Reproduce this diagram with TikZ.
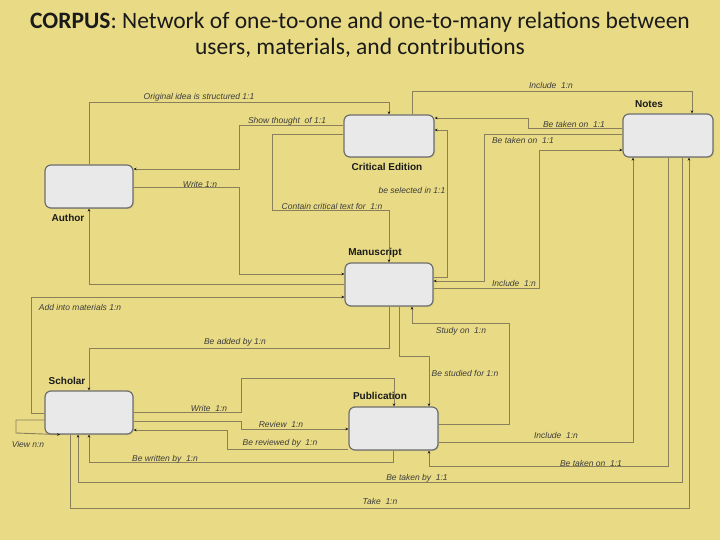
\documentclass[tikz,border=0pt]{standalone}
\usepackage{fontspec}
\setmainfont{Liberation Sans}
\newfontfamily\titlefont{Carlito}
\usepackage{tikz}
\usetikzlibrary{arrows.meta,positioning,shadows}
\definecolor{sand}{HTML}{E9DB85}
\definecolor{boxfill}{HTML}{E9E9E9}
\definecolor{boxline}{HTML}{6E6E6E}
\definecolor{wire}{HTML}{8A7F5C}
\definecolor{ink}{HTML}{1A1A1A}
\tikzset{
  entity/.style={draw=boxline,fill=boxfill,line width=1.2pt,rounded corners=6pt,
                 minimum width=88pt,minimum height=43pt,inner sep=0pt,
                 drop shadow={shadow xshift=1pt,shadow yshift=-1pt,opacity=0.25}},
  etitle/.style={font=\fontsize{10}{12}\selectfont\bfseries,text=ink,inner sep=0pt},
  rel/.style={draw=wire,line width=0.9pt,
              -{Stealth[length=3pt,width=2.6pt,color=ink]}},
  rlabel/.style={font=\fontsize{8.5}{10}\selectfont\itshape,text=ink!85,inner sep=0pt}
}

\begin{document}
\begin{tikzpicture}[x=1pt,y=-1pt]
  \fill[sand] (0,0) rectangle (720,540);
  \useasboundingbox (0,0) rectangle (720,540);

  \node[align=center,text=ink,font=\titlefont\fontsize{23.5}{26}\selectfont] (title) at (360,35)
    {\textbf{CORPUS}: Network of one-to-one and one-to-many relations between\\
     users, materials, and contributions};

  % entities
  \node[entity] (author) at (89,186.5) {};
  \node[entity,minimum width=90pt,minimum height=42pt] (ce) at (389,136) {};
  \node[entity,minimum width=90pt] (notes) at (668,135.5) {};
  \node[entity] (ms) at (389,284.5) {};
  \node[entity] (scholar) at (89,412.5) {};
  \node[entity,minimum width=89pt] (pub) at (393.5,428.5) {};

  \node[etitle] (authorT) at (68,218) {Author};
  \node[etitle] (ceT) at (387,167) {Critical Edition};
  \node[etitle] (notesT) at (649,104) {Notes};
  \node[etitle] (msT) at (375,253) {Manuscript};
  \node[etitle] (scholarT) at (67,381) {Scholar};
  \node[etitle] (pubT) at (380,396) {Publication};

  % author / critical edition / manuscript
  \draw[rel] (author.north) |- (389,102) -- (ce.north);
  \draw[rel] (ce.west |- 0,125) -| (239,169) -- (author.east |- 0,169);
  \draw[rel] (author.east |- 0,187) -| (239,274) -- (ms.west |- 0,274);
  \draw[rel] (ce.west |- 0,134) -| (272,210) -| (ms.north);
  \draw[rel] (ms.west |- 0,284) -| (author.south);
  \draw[rel] (ms.east |- 0,277) -| (447,130) -- (ce.east |- 0,130);

  % notes
  \draw[rel] (notes.west |- 0,128) -| (528,118) -- (ce.east |- 0,118);
  \draw[rel] (notes.west |- 0,134) -| (484,281) -- (ms.east |- 0,281);
  \draw[rel] (ms.east |- 0,288) -| (539,150) -- (notes.west |- 0,150);
  \draw[rel] (ce.north -| 412,0) |- (692,91) -- (notes.north -| 692,0);

  % scholar / manuscript
  \draw[rel] (scholar.west |- 0,413) -| (31,297) -- (ms.west |- 0,297);
  \draw[rel] (ms.south) |- (89,348) -- (scholar.north);

  % manuscript / publication
  \draw[rel] (pub.east |- 0,424) -| (509,323) -| (ms.south -| 412,0);
  \draw[rel] (ms.south -| 399,0) |- (429,356) -- (pub.north -| 429,0);

  % publication / notes / scholar
  \draw[rel] (pub.east |- 0,442) -| (notes.south -| 633,0);
  \draw[rel] (notes.south -| 668,0) |- (429,466) -- (pub.south -| 429,0);
  \draw[rel] (notes.south -| 682,0) |- (78,482) -- (scholar.south -| 78,0);
  \draw[rel] (scholar.south -| 70,0) |- (689,508) -- (notes.south -| 689,0);

  % scholar / publication
  \draw[rel] (scholar.east |- 0,412) -| (241,378) -| (pub.north -| 394,0);
  \draw[rel] (scholar.east |- 0,421) -| (241,429) -- (pub.west |- 0,429);
  \draw[rel] (pub.west |- 0,449) -| (227,430) -- (scholar.east |- 0,430);
  \draw[rel] (pub.south -| 393,0) |- (89,462) -- (scholar.south);
  \draw[rel] (scholar.west |- 0,420) -| (16,433) -- (scholar.south -| 60,0);

  % relation labels
  \node[rlabel] (l01) at (199,97) {Original idea is structured 1:1};
  \node[rlabel] (l02) at (287,121) {Show thought\ \ of 1:1};
  \node[rlabel] (l03) at (200,184) {Write 1:n};
  \node[rlabel] (l04) at (332,206) {Contain critical text for\ \ 1:n};
  \node[rlabel] (l05) at (412,190) {be selected in 1:1};
  \node[rlabel] (l06) at (551,85) {Include\ \ 1:n};
  \node[rlabel] (l07) at (574,124) {Be taken on\ \ 1:1};
  \node[rlabel] (l08) at (523,140) {Be taken on\ \ 1:1};
  \node[rlabel] (l09) at (514,283) {Include\ \ 1:n};
  \node[rlabel] (l10) at (80,307) {Add into materials 1:n};
  \node[rlabel] (l11) at (235,342) {Be added by 1:n};
  \node[rlabel] (l12) at (461,331) {Study on\ \ 1:n};
  \node[rlabel] (l13) at (465,373) {Be studied for 1:n};
  \node[rlabel] (l14) at (556,435) {Include\ \ 1:n};
  \node[rlabel] (l15) at (591,463) {Be taken on\ \ 1:1};
  \node[rlabel] (l16) at (417,478) {Be taken by\ \ 1:1};
  \node[rlabel] (l17) at (380,501) {Take\ \ 1:n};
  \node[rlabel] (l18) at (209,408) {Write\ \ 1:n};
  \node[rlabel] (l19) at (281,424) {Review\ \ 1:n};
  \node[rlabel] (l20) at (280,443) {Be reviewed by\ \ 1:n};
  \node[rlabel] (l21) at (165,459) {Be written by\ \ 1:n};
  \node[rlabel] (l22) at (28,444) {View n:n};
\end{tikzpicture}
\end{document}
